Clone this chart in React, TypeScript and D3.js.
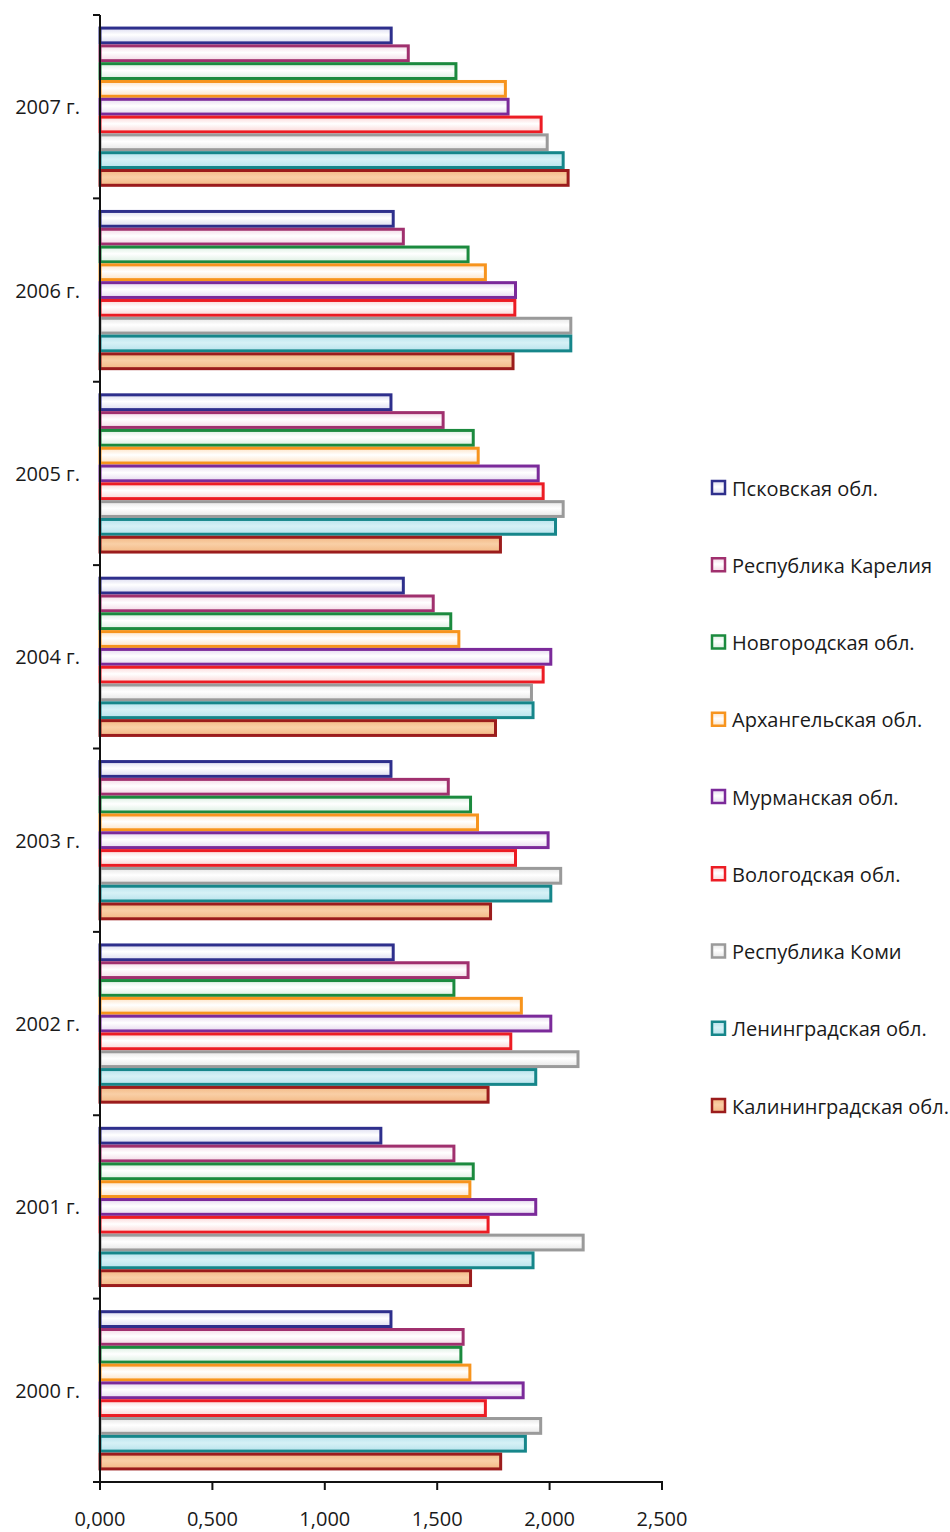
import React from "react";
import * as d3 from "d3";

const years = ["2007 г.", "2006 г.", "2005 г.", "2004 г.", "2003 г.", "2002 г.", "2001 г.", "2000 г."];
const regions = [
  "Псковская обл.",
  "Республика Карелия",
  "Новгородская обл.",
  "Архангельская обл.",
  "Мурманская обл.",
  "Вологодская обл.",
  "Республика Коми",
  "Ленинградская обл.",
  "Калининградская обл.",
];
// values per region, ordered as years (2007 ... 2000)
const pskov = [1.302, 1.311, 1.301, 1.356, 1.301, 1.311, 1.256, 1.301];
const karelia = [1.378, 1.356, 1.533, 1.489, 1.556, 1.644, 1.581, 1.622];
const novgorod = [1.59, 1.644, 1.667, 1.567, 1.655, 1.581, 1.667, 1.612];
const arkhangelsk = [1.81, 1.721, 1.689, 1.603, 1.686, 1.881, 1.652, 1.652];
const murmansk = [1.822, 1.855, 1.956, 2.012, 2.0, 2.012, 1.945, 1.889];
const vologda = [1.969, 1.852, 1.978, 1.978, 1.855, 1.834, 1.733, 1.721];
const komi = [1.996, 2.101, 2.067, 1.926, 2.056, 2.133, 2.156, 1.967];
const leningrad = [2.067, 2.101, 2.033, 1.933, 2.012, 1.945, 1.933, 1.899];
const kaliningrad = [2.089, 1.844, 1.788, 1.766, 1.744, 1.733, 1.655, 1.789];
const seriesValues = [pskov, karelia, novgorod, arkhangelsk, murmansk, vologda, komi, leningrad, kaliningrad];
const xTicks = [0, 0.5, 1, 1.5, 2, 2.5];
const xTickLabels = ["0,000", "0,500", "1,000", "1,500", "2,000", "2,500"];

const strokes = ["#2e2f8c", "#a0306e", "#1b8a3e", "#f7941d", "#7b2a9a", "#ec1c24", "#9a9a9a", "#16868a", "#9b1c1c"];
const fills = ["#dcdcf0", "#f3d9e6", "#dcefe2", "#fde3c6", "#e6d9ef", "#fbd6d6", "#e6e6e6", "#b8e3ec", "#f3b985"];
const mids = ["#ffffff", "#ffffff", "#ffffff", "#ffffff", "#ffffff", "#ffffff", "#ffffff", "#d6f1f6", "#f9cfa6"];

export default function App() {
  const W = 950, H = 1532;
  const x0 = 100, x1 = 662, yTop = 15, yBot = 1482;
  const x = d3.scaleLinear().domain([0, 2.5]).range([x0, x1]);
  const y = d3.scaleBand<string>().domain(years).range([yTop, yBot]).padding(0);
  const inner = d3
    .scaleBand<string>()
    .domain(regions)
    .range([0, y.bandwidth()])
    .paddingInner(0)
    .paddingOuter(0.65);
  const sw = 3;
  const font = "'Open Sans', 'Noto Sans', sans-serif";
  const fs = 20;
  const legendY = d3.scaleLinear().domain([0, regions.length - 1]).range([488, 1106]);

  return (
    <svg width={W} height={H} style={{ position: "absolute", left: 0, top: 0, background: "#fff" }}>
      <defs>
        {regions.map((r, i) => (
          <linearGradient key={r} id={`g${i}`} x1="0" y1="0" x2="0" y2="1">
            <stop offset="0%" stopColor={fills[i]} />
            <stop offset="45%" stopColor={mids[i]} />
            <stop offset="100%" stopColor={fills[i]} />
          </linearGradient>
        ))}
      </defs>
      {years.map((yr, yi) => (
        <g key={yr}>
          {regions.map((r, si) => {
            const v = seriesValues[si][yi];
            const by = (y(yr) as number) + (inner(r) as number);
            const bh = inner.bandwidth();
            return (
              <rect
                key={r}
                x={x(0)}
                y={by + sw / 2}
                width={x(v) - x(0) - sw / 2}
                height={bh - sw}
                fill={`url(#g${si})`}
                stroke={strokes[si]}
                strokeWidth={sw}
              />
            );
          })}
          <text
            x={80}
            y={(y(yr) as number) + y.bandwidth() / 2}
            textAnchor="end"
            dominantBaseline="central"
            fontFamily={font}
            fontSize={fs}
            fill="#1a1a1a"
          >
            {yr}
          </text>
        </g>
      ))}
      {/* axes */}
      <line x1={x0} x2={x0} y1={yTop} y2={yBot} stroke="#111" strokeWidth={2} />
      <line x1={x0} x2={x1 + 1} y1={yBot} y2={yBot} stroke="#111" strokeWidth={2} />
      {[...years.map((yr) => y(yr) as number), yBot].map((t, i) => (
        <line key={i} x1={x0 - 7} x2={x0} y1={t} y2={t} stroke="#111" strokeWidth={2} />
      ))}
      {xTicks.map((t, i) => (
        <g key={t}>
          <line x1={x(t)} x2={x(t)} y1={yBot} y2={yBot + 8} stroke="#111" strokeWidth={2} />
          <text
            x={x(t)}
            y={1518}
            textAnchor="middle"
            dominantBaseline="central"
            fontFamily={font}
            fontSize={fs}
            fill="#1a1a1a"
          >
            {xTickLabels[i]}
          </text>
        </g>
      ))}
      {/* legend */}
      {regions.map((r, i) => (
        <g key={r} transform={`translate(712, ${legendY(i)})`}>
          <rect x={0} y={-7} width={13} height={13} fill={`url(#g${i})`} stroke={strokes[i]} strokeWidth={2.5} />
          <text x={20} y={0} dominantBaseline="central" fontFamily={font} fontSize={fs} fill="#1a1a1a">
            {r}
          </text>
        </g>
      ))}
    </svg>
  );
}
